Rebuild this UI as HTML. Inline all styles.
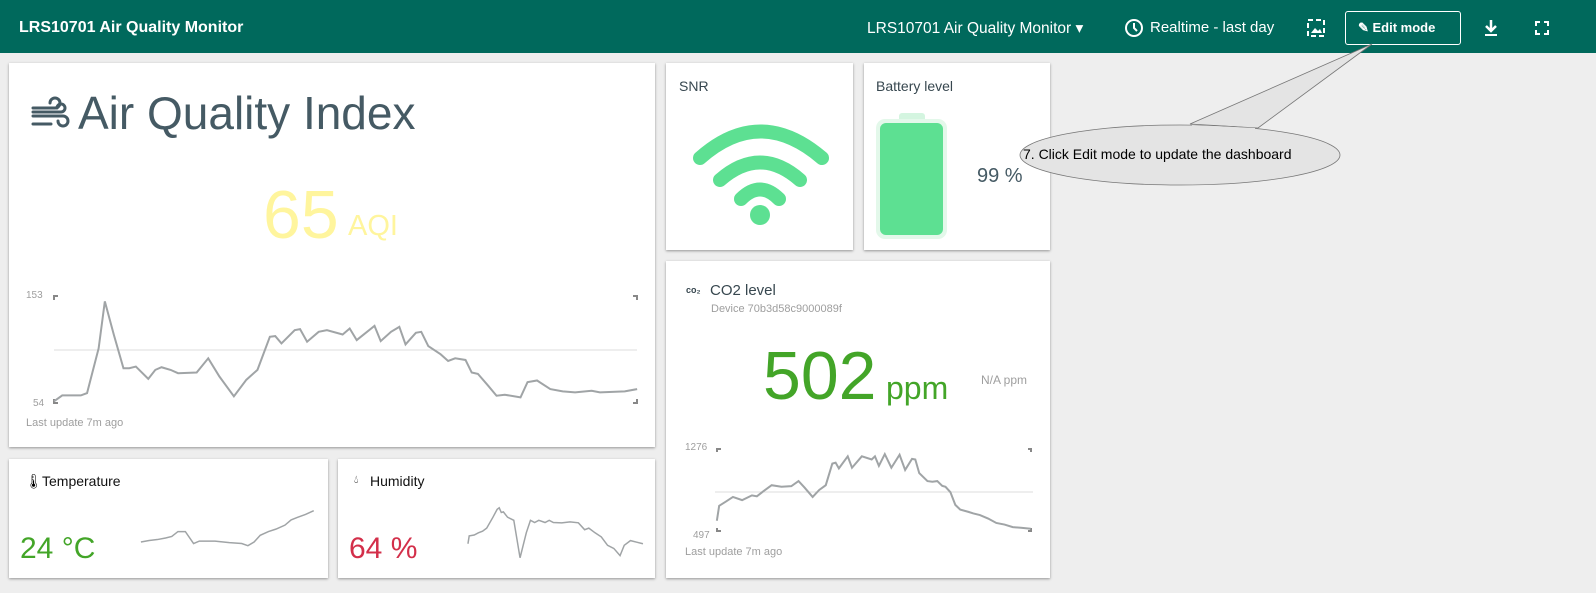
<!DOCTYPE html>
<html><head><meta charset="utf-8"><style>
body{margin:0;width:1596px;height:593px;background:#eeeeee;font-family:"Liberation Sans",sans-serif;position:relative;overflow:hidden}
.hdr{position:absolute;left:0;top:0;width:1596px;height:53px;background:#00695c;color:#fff}
.card{position:absolute;background:#fff;box-shadow:0 1px 3px rgba(0,0,0,.25),0 1px 2px rgba(0,0,0,.15)}
.t{position:absolute;color:#37474f;font-size:15px}
.a{position:absolute;white-space:nowrap}
</style></head><body>
<div class="hdr">
<div class="a" style="left:19px;top:19px;font-size:16px;font-weight:bold">LRS10701 Air Quality Monitor</div>
<div class="a" style="left:867px;top:19px;font-size:15.5px">LRS10701 Air Quality Monitor ▾</div>
<svg class="a" style="left:1124px;top:18px" width="20" height="20"><circle cx="10" cy="10" r="8" fill="none" stroke="#fff" stroke-width="2"/><path d="M10 5v5l3 3" stroke="#fff" stroke-width="2" fill="none"/></svg>
<div class="a" style="left:1150px;top:19px;font-size:15px">Realtime - last day</div>
<svg class="a" style="left:1306px;top:18px" width="20" height="20"><rect x="2" y="2" width="16" height="16" fill="none" stroke="#fff" stroke-width="2" stroke-dasharray="5 3"/><path d="M5 15l4-5 3 3 2-2 2 4z" fill="#fff"/></svg>
<div class="a" style="left:1345px;top:11px;width:114px;height:32px;border:1px solid #fff;border-radius:3px"></div>
<div class="a" style="left:1358px;top:20px;font-size:13px;font-weight:bold">✎ Edit mode</div>
<svg class="a" style="left:1482px;top:18px" width="18" height="20"><path d="M9 2v10M4 8l5 5 5-5" stroke="#fff" stroke-width="2.5" fill="none"/><rect x="3" y="16" width="12" height="2" fill="#fff"/></svg>
<svg class="a" style="left:1535px;top:21px" width="14" height="14"><path d="M1 5V1h4M9 1h4v4M13 9v4H9M5 13H1V9" stroke="#fff" stroke-width="2" fill="none"/></svg>
</div>

<div class="card" style="left:9px;top:63px;width:646px;height:384px"></div>
<div class="card" style="left:666px;top:63px;width:187px;height:187px"></div>
<div class="card" style="left:864px;top:63px;width:186px;height:187px"></div>
<div class="card" style="left:666px;top:261px;width:384px;height:317px"></div>
<div class="card" style="left:9px;top:459px;width:319px;height:119px"></div>
<div class="card" style="left:338px;top:459px;width:317px;height:119px"></div>

<!-- AQI -->
<svg class="a" style="left:31px;top:96px" width="40" height="36"><g stroke="#455a64" stroke-width="3" fill="none" stroke-linecap="round"><path d="M2 12h22a5 5 0 1 0-5-5"/><path d="M2 20h30a5 5 0 1 1-5 5"/><path d="M2 28h18"/><path d="M2 16h28a4 4 0 1 0-4-4"/></g></svg>
<div class="a" style="left:78px;top:86px;font-size:46px;color:#455a64">Air Quality Index</div>
<div class="a" style="left:263px;top:176px;font-size:68px;color:#fff59d">65</div>
<div class="a" style="left:348px;top:210px;font-size:29px;color:#fff59d">AQI</div>
<div class="a" style="left:26px;top:290px;font-size:10px;color:#9e9e9e">153</div>
<div class="a" style="left:33px;top:398px;font-size:10px;color:#9e9e9e">54</div>
<div class="a" style="left:26px;top:417px;font-size:11px;color:#9e9e9e">Last update 7m ago</div>
<svg class="a" style="left:0;top:0" width="1596" height="593">
<g stroke="#888" stroke-width="2" fill="none">
<path d="M54 300v-4h4M633 296h4v4M54 399v4h4M633 403h4v-4"/>
<path d="M717 452v-3h4M1028 449h3v3M717 528v3h4M1028 531h3v-3"/>
</g>
<line x1="54" y1="350" x2="637" y2="350" stroke="#ddd"/>
<line x1="715" y1="492" x2="1033" y2="492" stroke="#ddd"/>
<g transform="translate(0.2,57) scale(0.4136,0.3311)">
<polyline vector-effect="non-scaling-stroke" fill="none" stroke="#a0a4a6" stroke-width="2" points="130,1040 150,1022 195,1022 210,1015 238,880 253,738 275,840 298,940 312,940 328,935 358,972 375,945 390,937 412,945 430,955 475,953 503,910 530,965 565,1025 595,975 622,945 652,845 665,843 680,865 712,825 725,822 742,860 770,830 790,825 828,838 845,820 862,855 905,812 920,858 945,830 965,815 980,868 1005,833 1018,830 1035,873 1065,898 1083,918 1100,910 1125,915 1140,953 1155,957 1180,993 1200,1023 1220,1020 1258,1028 1275,982 1298,977 1330,1003 1360,1010 1390,1013 1430,1008 1450,1013 1510,1010 1540,1003"/>
</g>
<g transform="translate(647,262) scale(0.328,0.3175)">
<polyline vector-effect="non-scaling-stroke" fill="none" stroke="#a0a4a6" stroke-width="2" points="213,815 220,768 240,755 262,740 290,750 320,735 335,738 355,722 380,703 410,708 440,706 462,690 480,710 505,740 525,718 545,703 565,635 575,632 585,650 612,612 625,648 655,612 685,622 695,612 707,642 725,605 745,648 770,607 787,655 808,620 818,622 830,665 855,690 870,692 885,690 900,705 910,708 925,725 940,765 955,780 980,787 995,792 1015,797 1040,808 1065,822 1090,827 1115,835 1140,837 1170,840"/>
</g>
<g transform="translate(1,450) scale(0.4115,0.3067)">
<polyline vector-effect="non-scaling-stroke" fill="none" stroke="#a0a4a6" stroke-width="1.5" points="340,300 360,295 380,292 400,287 415,282 430,266 448,266 468,305 482,297 520,297 555,302 585,305 600,312 615,300 630,278 650,266 668,258 690,245 705,228 720,220 740,210 760,198"/>
</g>
<g transform="translate(-5,450) scale(0.4167,0.3125)">
<polyline vector-effect="non-scaling-stroke" fill="none" stroke="#a0a4a6" stroke-width="1.5" points="1135,300 1138,275 1150,272 1160,265 1170,260 1180,250 1195,215 1205,190 1210,185 1215,200 1220,198 1230,215 1245,225 1260,345 1275,265 1285,225 1295,232 1305,225 1320,232 1330,225 1340,232 1360,233 1380,230 1400,233 1415,255 1425,250 1440,265 1455,278 1470,305 1485,315 1500,338 1510,305 1525,290 1540,295 1555,300"/>
</g>
<!-- wifi -->
<g stroke="#5de092" stroke-width="14" fill="none" stroke-linecap="round">
<path d="M700 158Q760 105 822 158"/>
<path d="M720 180Q760 145 800 180"/>
<path d="M741 199Q760 180 779 199"/>
</g>
<circle cx="760" cy="215" r="10" fill="#5de092"/>
<!-- battery -->
<rect x="899" y="113" width="26" height="10" rx="3" fill="#d4f5e0"/>
<rect x="876" y="119" width="71" height="120" rx="9" fill="#e3f8ea"/>
<rect x="880" y="123" width="63" height="112" rx="6" fill="#5de092"/>
<!-- callout -->
<path d="M1190 124L1372 44 1258 128Z" fill="#e4e4e4" stroke="#777" stroke-width="0.8"/>
<ellipse cx="1180" cy="155" rx="160" ry="30" fill="#e4e4e4" stroke="#777" stroke-width="0.8"/>
<path d="M1192 127L1255 130" stroke="#e4e4e4" stroke-width="4"/>
</svg>
<div class="t" style="left:679px;top:78px;font-size:14px">SNR</div>
<div class="t" style="left:876px;top:78px;font-size:14px">Battery level</div>
<div class="a" style="left:977px;top:165px;font-size:20px;color:#455a64">99 %</div>
<div class="a" style="left:1023px;top:146px;font-size:14px;color:#000">7. Click Edit mode to update the dashboard</div>

<!-- CO2 -->
<div class="a" style="left:686px;top:285px;font-size:9px;font-weight:bold;color:#37474f">co₂</div>
<div class="t" style="left:710px;top:282px;font-size:15px">CO2 level</div>
<div class="a" style="left:711px;top:303px;font-size:11px;color:#9e9e9e">Device 70b3d58c9000089f</div>
<div class="a" style="left:763px;top:337px;font-size:68px;color:#43a528">502</div>
<div class="a" style="left:886px;top:370px;font-size:32px;color:#43a528">ppm</div>
<div class="a" style="left:981px;top:373px;font-size:12px;color:#9e9e9e">N/A ppm</div>
<div class="a" style="left:685px;top:442px;font-size:10px;color:#9e9e9e">1276</div>
<div class="a" style="left:693px;top:530px;font-size:10px;color:#9e9e9e">497</div>
<div class="a" style="left:685px;top:546px;font-size:11px;color:#9e9e9e">Last update 7m ago</div>

<!-- temp / humidity -->
<div class="a" style="left:25px;top:473px;font-size:14px;color:#000">🌡︎</div>
<div class="t" style="left:42px;top:473px;font-size:14px;color:#111">Temperature</div>
<div class="a" style="left:20px;top:532px;font-size:30px;color:#43a528">24 °C</div>
<div class="a" style="left:354px;top:474px;font-size:11px;color:#000">💧︎</div>
<div class="t" style="left:370px;top:473px;font-size:14px;color:#111">Humidity</div>
<div class="a" style="left:349px;top:532px;font-size:30px;color:#d32f4a">64 %</div>
</body></html>
